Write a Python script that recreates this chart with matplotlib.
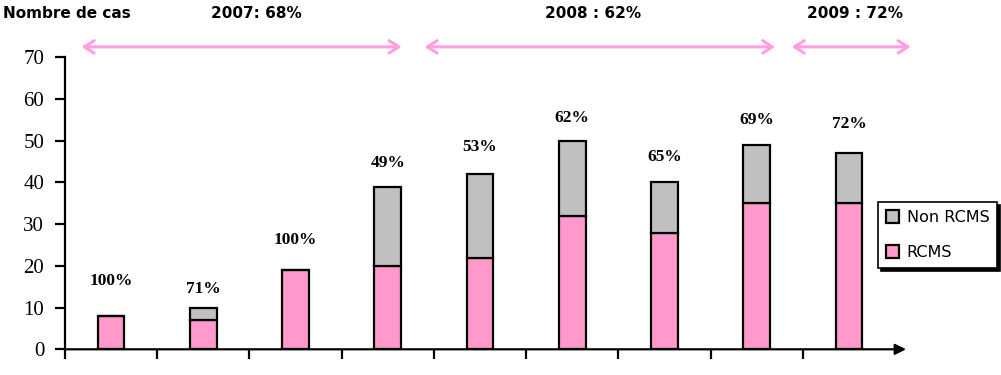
import numpy as np
import matplotlib
matplotlib.use("Agg")
import matplotlib.pyplot as plt
from matplotlib import rcParams
from matplotlib.transforms import blended_transform_factory

# Palette
PINK = "#FF99CC"
GREY = "#C0C0C0"
ARROW_PINK = "#FF9EE0"
BLACK = "#000000"

rcParams["font.family"] = "DejaVu Sans"

# ---------- data ---------------------------------------------------------
RCMS = [8, 7, 19, 20, 22, 32, 28, 35, 35]
NON_RCMS = [0, 3, 0, 19, 20, 18, 12, 14, 12]
PCT_LABELS = ["100%", "71%", "100%", "49%", "53%", "62%", "65%", "69%", "72%"]
YEAR_LABELS = ["2007: 68%", "2008 : 62%", "2009 : 72%"]
Y_TICKS = [0, 10, 20, 30, 40, 50, 60, 70]

# ---------- layout (data units) ------------------------------------------
LABEL_DY = [8.4, 4.5, 7.2, 5.7, 6.5, 5.5, 6.1, 6.0, 7.0]
ARROW_X = [(0.18, 3.65), (3.9, 7.7), (7.88, 9.17)]
YEAR_X = [2.07, 5.73, 8.57]

fig = plt.figure(figsize=(10.01, 3.75), dpi=100)
fig.patch.set_facecolor("white")
ax = fig.add_axes([65 / 1001, 1 - 349.3 / 375, 830 / 1001, 292 / 375])

x = np.arange(len(RCMS)) + 0.5
ax.bar(x, RCMS, width=0.29, color=PINK, edgecolor=BLACK, lw=1.6,
       label="RCMS", zorder=2)
ax.bar(x, NON_RCMS, width=0.29, bottom=RCMS, color=GREY, edgecolor=BLACK,
       lw=1.6, label="Non RCMS", zorder=2)

ax.set_xlim(0, 9)
ax.set_ylim(0, 70)

# percentage labels above each bar
for xi, r, n, lab, dy in zip(x, RCMS, NON_RCMS, PCT_LABELS, LABEL_DY):
    ax.text(xi, r + n + dy, lab, ha="center", va="center",
            family="Liberation Serif", fontweight="bold", fontsize=12.5)

# spines / ticks
for side in ("top", "right", "bottom"):
    ax.spines[side].set_visible(False)
ax.spines["left"].set_linewidth(1.6)
ax.set_yticks(Y_TICKS)
ax.set_yticklabels([str(v) for v in Y_TICKS], family="Liberation Serif",
                   fontsize=15)
ax.tick_params(axis="y", direction="out", length=7, width=1.6, pad=8)
ax.set_xticks(np.arange(0, 9))
ax.set_xticklabels([])
ax.tick_params(axis="x", direction="out", length=7, width=1.6)

# x axis with arrow head
ax.annotate("", xy=(9.12, 0), xytext=(0, 0), xycoords="data",
            arrowprops=dict(arrowstyle="-|>", color=BLACK, lw=1.6,
                            mutation_scale=16, shrinkA=0, shrinkB=0),
            annotation_clip=False, zorder=3)

# year spans: pink double arrows + titles along the top edge of the figure
top = blended_transform_factory(ax.transData, fig.transFigure)
for (x0, x1), lab, xt in zip(ARROW_X, YEAR_LABELS, YEAR_X):
    ax.annotate("", xy=(x1, 72.5), xytext=(x0, 72.5), xycoords="data",
                arrowprops=dict(arrowstyle="<->,head_length=0.7,head_width=0.45",
                                color=ARROW_PINK, lw=2.2,
                                shrinkA=0, shrinkB=0),
                annotation_clip=False)
    ax.text(xt, 1 - 13 / 375, lab, transform=top,
            ha="center", va="center", fontsize=11, fontweight="bold")

fig.text(3 / 1001, 1 - 14 / 375, "Nombre de cas", ha="left", va="center",
         fontsize=11, fontweight="bold")

# legend
h, l = ax.get_legend_handles_labels()
leg = ax.legend(h[::-1], l[::-1], loc="upper left",
                bbox_to_anchor=(878 / 1001, 1 - 202 / 375),
                bbox_transform=fig.transFigure, frameon=True, fancybox=False,
                shadow={"color": BLACK, "alpha": 1}, fontsize=11.5,
                handlelength=0.8, handleheight=0.8, handletextpad=0.5,
                labelspacing=1.25, borderpad=0.5, borderaxespad=0)
leg.get_frame().set_edgecolor(BLACK)
leg.get_frame().set_linewidth(1.2)

fig.savefig("out.png", dpi=100, facecolor="white")
